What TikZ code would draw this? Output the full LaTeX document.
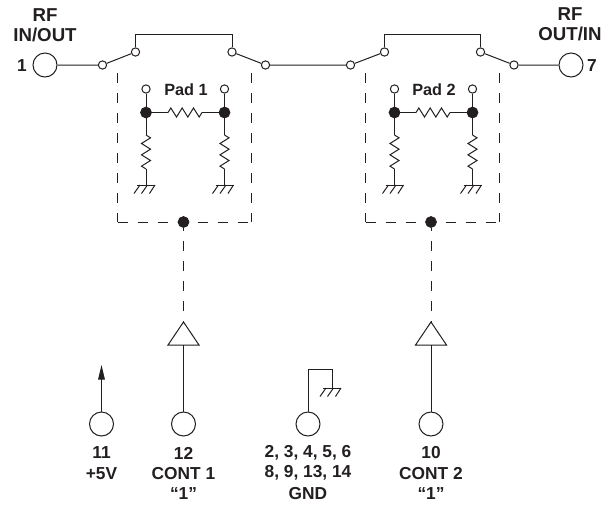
\documentclass[tikz,border=0pt]{standalone}
\usepackage{fontspec}
\setmainfont{Liberation Sans}
\usetikzlibrary{decorations.pathmorphing,arrows.meta}
\definecolor{ink}{HTML}{231F20}
\tikzset{
  x=0.75pt,y=-0.75pt,
  every path/.style={draw=ink,line width=0.75pt},
  port/.style={circle,draw=ink,fill=white,line width=0.75pt,minimum size=18pt,inner sep=0pt},
  contact/.style={circle,draw=ink,fill=white,line width=0.75pt,minimum size=6.2pt,inner sep=0pt},
  dotnode/.style={circle,draw=ink,fill=ink,minimum size=8pt,inner sep=0pt},
  lbl/.style={draw=none,text=ink,font=\bfseries\fontsize{13}{15}\selectfont,inner sep=0pt,align=center,anchor=center},
  biglbl/.style={lbl,font=\bfseries\fontsize{14}{16}\selectfont},
  padlbl/.style={lbl,font=\bfseries\fontsize{12.2}{14}\selectfont},
  buffer/.style={draw=ink,fill=white,line width=0.75pt,line join=miter},
  dashline/.style={draw=ink,dash pattern=on 7.5pt off 7.5pt,line width=0.75pt},
  zig/.style={decorate,decoration={zigzag,segment length=8.5pt,amplitude=3.4pt}},
  gndsym/.pic={\draw (-9,0)--(9,0);
     \draw (-6,0)--(-12,8.5) (1.5,0)--(-4.5,8.5) (9,0)--(3.5,8.5);}
}
\begin{document}
\begin{tikzpicture}
\useasboundingbox[draw=none] (0,0) rectangle (613,504);
% ports
\node[port] (p1) at (45,65) {};
\node[port] (p7) at (571,65) {};
\node[port] (p11) at (101.5,424) {};
\node[port] (p12) at (183.5,424) {};
\node[port] (pg) at (308,424) {};
\node[port] (p10) at (431,424) {};
% contacts
\node[contact] (a1) at (102.5,65) {};
\node[contact] (a2) at (135.5,52) {};
\node[contact] (a3) at (232,52) {};
\node[contact] (a4) at (265.5,65) {};
\node[contact] (b1) at (350.5,65) {};
\node[contact] (b2) at (384.5,52) {};
\node[contact] (b3) at (480.5,52) {};
\node[contact] (b4) at (514,65) {};
% RF path
\draw (p1)--(a1)--(a2);
\draw (a2) -- (135.5,34.5) -- (232,34.5) -- (a3);
\draw (a3)--(a4)--(b1)--(b2);
\draw (b2) -- (384.5,34.5) -- (480.5,34.5) -- (b3);
\draw (b3)--(b4)--(p7);
% dashed boxes
\draw[dashline] (117.5,73)--(117.5,222);
\draw[dashline] (117.5,222)--(251,222);
\draw[dashline] (251,73)--(251,222);
\draw[dashline] (365.5,73)--(365.5,222);
\draw[dashline] (365.5,222)--(499.5,222);
\draw[dashline] (499.5,73)--(499.5,222);
% pad 1
\node[contact] (c1) at (146,89) {};
\node[contact] (c2) at (224.5,89) {};
\node[dotnode] (d1) at (146,112.5) {};
\node[dotnode] (d2) at (224.5,112.5) {};
\draw (c1)--(d1) (c2)--(d2);
\coordinate (h1a) at (168,112.5); \coordinate (h1b) at (202,112.5);
\draw (d1)--(h1a); \draw[zig] (h1a)--(h1b); \draw (h1b)--(d2);
\coordinate (v1a) at (146,135); \coordinate (v1b) at (146,169);
\coordinate (v2a) at (224.5,135); \coordinate (v2b) at (224.5,169);
\coordinate (g1) at (146,185); \coordinate (g2) at (224.5,185);
\draw (d1)--(v1a); \draw[zig] (v1a)--(v1b); \draw (v1b)--(g1);
\draw (d2)--(v2a); \draw[zig] (v2a)--(v2b); \draw (v2b)--(g2);
\pic at (g1) {gndsym}; \pic at (g2) {gndsym};
% pad 2
\node[contact] (e1) at (394.5,89) {};
\node[contact] (e2) at (472.5,89) {};
\node[dotnode] (f1) at (394.5,112.5) {};
\node[dotnode] (f2) at (472.5,112.5) {};
\draw (e1)--(f1) (e2)--(f2);
\coordinate (h2a) at (416,112.5); \coordinate (h2b) at (450,112.5);
\draw (f1)--(h2a); \draw[zig] (h2a)--(h2b); \draw (h2b)--(f2);
\coordinate (v3a) at (394.5,135); \coordinate (v3b) at (394.5,169);
\coordinate (v4a) at (472.5,135); \coordinate (v4b) at (472.5,169);
\coordinate (g3) at (394.5,185); \coordinate (g4) at (472.5,185);
\draw (f1)--(v3a); \draw[zig] (v3a)--(v3b); \draw (v3b)--(g3);
\draw (f2)--(v4a); \draw[zig] (v4a)--(v4b); \draw (v4b)--(g4);
\pic at (g3) {gndsym}; \pic at (g4) {gndsym};
% control
\node[dotnode] (k1) at (183.5,222) {};
\node[dotnode] (k2) at (431,222) {};
\coordinate (t1) at (183.5,322); \coordinate (t2) at (431,322);
\coordinate (s1) at (183.5,231); \coordinate (s2) at (431,231);
\draw (k1)--(s1); \draw (k2)--(s2);
\draw[dash pattern=on 7.5pt off 7.5pt] (183.5,241)--(t1);
\draw[dash pattern=on 7.5pt off 7.5pt] (431,241)--(t2);
\draw[buffer] (t1)--(199,345)--(168,345)--cycle;
\draw[buffer] (t2)--(446.5,345)--(415.5,345)--cycle;
\coordinate (b1base) at (183.5,345); \coordinate (b2base) at (431,345);
\draw (p12)--(b1base);
\draw (p10)--(b2base);
% +5V
\coordinate (v5) at (101.5,365);
\draw[-{Triangle[length=11pt,width=5pt]}] (p11)--(v5);
% gnd pin
\coordinate (g5) at (332,388);
\draw (pg)--(308,369)--(332,369)--(g5);
\pic at (g5) {gndsym};
% labels
\node[biglbl] (t01) at (45,15) {RF};
\node[biglbl] (t02) at (45,35) {IN/OUT};
\node[lbl] (t03) at (22,65.5) {1};
\node[biglbl] (t04) at (570,14) {RF};
\node[biglbl] (t05) at (570,34) {OUT/IN};
\node[lbl] (t06) at (592,65.5) {7};
\node[padlbl] (t07) at (186,89.5) {Pad 1};
\node[padlbl] (t08) at (434,89.5) {Pad 2};
\node[lbl] (t09) at (101.5,453) {11};
\node[lbl] (t10) at (101.5,474) {+5V};
\node[lbl] (t11) at (183.5,453) {12};
\node[lbl] (t12) at (183.5,474) {CONT 1};
\node[lbl] (t13) at (183.5,494) {“1”};
\node[lbl] (t14) at (308,453) {2, 3, 4, 5, 6};
\node[lbl] (t15) at (308,473) {8, 9, 13, 14};
\node[lbl] (t16) at (308,494) {GND};
\node[lbl] (t17) at (431,453) {10};
\node[lbl] (t18) at (431,474) {CONT 2};
\node[lbl] (t19) at (431,494) {“1”};
\end{tikzpicture}
\end{document}
